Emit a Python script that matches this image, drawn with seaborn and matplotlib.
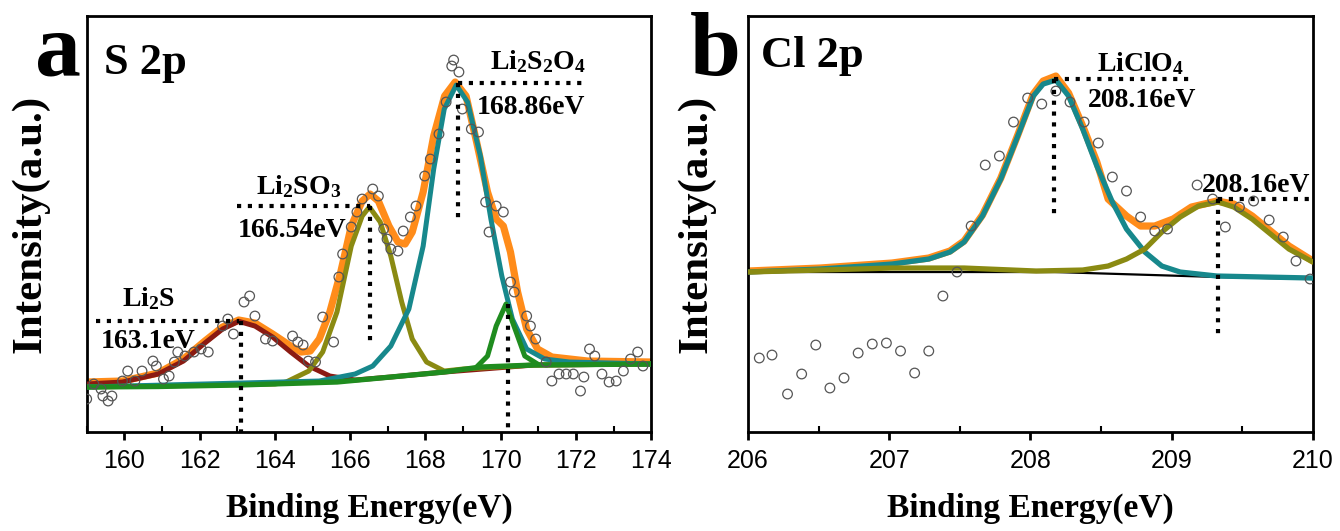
import numpy as np
import pandas as pd
import matplotlib
matplotlib.use("Agg")
import matplotlib.pyplot as plt
import seaborn as sns

# ---- panel a : S 2p (intensity in a.u.) ----
s_raw_x = [159.0, 159.19, 159.38, 159.43, 159.57, 159.67, 159.95, 160.09, 160.28, 160.47,
           160.76, 160.85, 161.04, 161.19, 161.33, 161.42, 161.61, 161.85, 162.04, 162.23,
           162.61, 162.75, 162.9, 163.18, 163.33, 163.47, 163.75, 163.94, 164.47, 164.61,
           164.75, 164.89, 165.08, 165.27, 165.56, 165.7, 165.8, 166.03, 166.18, 166.32,
           166.6, 166.75, 166.89, 166.98, 167.08, 167.27, 167.41, 167.6, 167.75, 167.98,
           168.13, 168.36, 168.55, 168.7, 168.75, 168.89, 168.98, 169.22, 169.41, 169.6,
           169.69, 169.88, 170.07, 170.26, 170.36, 170.69, 170.79, 170.93, 171.21, 171.36,
           171.55, 171.74, 171.93, 172.12, 172.21, 172.36, 172.5, 172.69, 172.88, 173.07,
           173.26, 173.45, 173.64, 173.78]
s_raw_y = [33, 48, 43, 36, 31, 36, 51, 61, 51, 61,
           71, 66, 53, 56, 70, 80, 76, 80, 83, 80,
           106, 113, 98, 130, 136, 116, 93, 91, 96, 90,
           87, 71, 70, 115, 90, 155, 178, 205, 220, 233,
           243, 236, 203, 193, 183, 181, 201, 215, 226, 256,
           273, 298, 330, 366, 372, 360, 323, 303, 300, 230,
           200, 226, 220, 150, 140, 116, 106, 93, 70, 51,
           58, 58, 58, 41, 55, 83, 76, 58, 50, 51,
           61, 73, 80, 66]

s_env_x = [159.0, 159.95, 160.9, 161.57, 162.14, 162.61, 163.04, 163.47, 163.94, 164.42,
           164.7, 164.94, 165.18, 165.46, 165.75, 166.03, 166.32, 166.53, 166.75, 167.03,
           167.27, 167.46, 167.65, 167.94, 168.22, 168.51, 168.79, 169.08, 169.36, 169.65,
           169.88, 170.07, 170.26, 170.45, 170.69, 170.98, 171.36, 172.31, 174.0]
s_env_y = [50, 51, 59, 73, 91, 105, 112, 109, 98, 86,
           80, 81, 93, 120, 160, 206, 231, 238, 231, 206,
           190, 188, 200, 240, 296, 336, 350, 336, 290, 240,
           213, 206, 180, 140, 103, 83, 75, 71, 70]

s_li2s_x = [159.0, 159.95, 160.9, 161.57, 162.14, 162.61, 163.04, 163.47, 163.94, 164.42,
            164.9, 165.46, 166.13, 167.08, 168.5, 170.88, 174.0]
s_li2s_y = [48, 50, 58, 71, 89, 103, 110.7, 106, 95, 80,
            66, 56, 52, 55, 60, 67, 68]

s_so3_x = [159.0, 164.0, 164.3, 164.9, 165.27, 165.65, 166.03, 166.32, 166.51, 166.8,
           167.08, 167.37, 167.65, 168.03, 168.5, 169.0, 170.88, 174.0]
s_so3_y = [45, 48, 50, 61, 80, 120, 186, 216, 225, 210,
           176, 130, 93, 70, 61, 63, 67, 68]

s_s2o4_x = [159.0, 165.18, 166.13, 166.6, 167.08, 167.56, 167.94, 168.22, 168.5, 168.82,
            169.12, 169.46, 169.74, 170.03, 170.31, 170.69, 171.17, 171.83, 174.0]
s_s2o4_y = [45, 51, 58, 66, 86, 123, 186, 263, 323, 347,
            330, 276, 213, 156, 113, 83, 73, 70, 68]

s_p170_x = [169.36, 169.65, 169.88, 170.14, 170.41, 170.64, 170.98]
s_p170_y = [65, 76, 106, 128, 100, 76, 68]

s_bg_x = [159.0, 160.9, 163.04, 165.65, 167.08, 168.5, 169.46, 170.88, 174.0]
s_bg_y = [45, 45.5, 47, 50, 55, 60, 65, 67, 68]

# ---- panel b : Cl 2p ----
cl_raw_x = [206.08, 206.17, 206.28, 206.38, 206.48, 206.58, 206.68, 206.78, 206.88, 206.98,
            207.08, 207.18, 207.28, 207.38, 207.48, 207.58, 207.68, 207.78, 207.88, 207.98,
            208.08, 208.18, 208.28, 208.38, 208.48, 208.58, 208.68, 208.78, 208.88, 208.97,
            209.18, 209.29, 209.38, 209.48, 209.58, 209.69, 209.79, 209.88, 209.98]
cl_raw_y = [74, 77, 38, 58, 87, 44, 54, 79, 88, 89,
            81, 59, 81, 136, 160, 206, 267, 276, 310, 334,
            328, 341, 330, 310, 289, 255, 241, 215, 201, 203,
            247, 233, 205, 225, 231, 212, 195, 171, 153]

cl_env_x = [206.0, 206.51, 207.02, 207.28, 207.43, 207.53, 207.66, 207.79, 207.91, 208.02,
            208.09, 208.18, 208.27, 208.37, 208.47, 208.55, 208.68, 208.78, 208.88, 209.01,
            209.14, 209.32, 209.44, 209.57, 209.7, 209.83, 210.0]
cl_env_y = [161, 164, 169, 174, 181, 191, 217, 254, 297, 338,
            351, 356, 339, 306, 270, 233, 216, 206, 206, 213,
            225, 231, 228, 216, 201, 186, 171]

cl_clo4_x = [206.0, 206.51, 207.02, 207.28, 207.43, 207.53, 207.66, 207.79, 207.91, 208.02,
             208.09, 208.18, 208.27, 208.37, 208.47, 208.58, 208.68, 208.81, 208.93, 209.06,
             209.32, 210.0]
cl_clo4_y = [160, 163, 168, 173, 180, 190, 216, 253, 296, 336,
             348, 352, 336, 303, 266, 230, 203, 180, 166, 160,
             156, 154]

cl_p2_x = [206.0, 207.02, 207.53, 208.04, 208.37, 208.55, 208.68, 208.81, 208.93, 209.06,
           209.19, 209.33, 209.44, 209.57, 209.7, 209.83, 210.0]
cl_p2_y = [160, 164, 164, 161, 162, 166, 173, 183, 200, 215,
           226, 230, 225, 213, 198, 183, 170]

cl_bg_x = [206.0, 208.17, 209.33, 210.0]
cl_bg_y = [160, 160, 155, 153]

COL = {"env": "#ff8c1a", "red": "#8b1a12", "olive": "#8a8a12", "teal": "#17888c",
       "green": "#1f8c1f", "pts": "#555555"}

sns.set_style("ticks")
plt.rcParams.update({
    "font.family": ["Liberation Sans Narrow", "Liberation Sans", "DejaVu Sans"],
    "mathtext.fontset": "custom",
    "mathtext.rm": "Liberation Serif:bold",
    "mathtext.it": "Liberation Serif:bold",
    "mathtext.bf": "Liberation Serif:bold",
    "text.color": "black", "axes.labelcolor": "black",
    "xtick.color": "black", "axes.edgecolor": "black",
    "axes.linewidth": 2.0,
    "xtick.major.width": 2.0, "xtick.minor.width": 1.5,
})
SERIF = ["Liberation Serif", "DejaVu Serif"]


def line(ax, x, y, color, lw, z):
    d = pd.DataFrame({"x": x, "y": y})
    sns.lineplot(data=d, x="x", y="y", ax=ax, color=color, lw=lw, sort=False,
                 estimator=None, zorder=z, legend=False)


def points(ax, x, y):
    d = pd.DataFrame({"x": x, "y": y})
    sns.scatterplot(data=d, x="x", y="y", ax=ax, s=48, facecolor="none",
                    edgecolor=COL["pts"], linewidth=0.9, zorder=10, legend=False)


def dots(ax, x, y):
    ax.plot(x, y, color="black", lw=3, ls=(0, (1, 1.6)), zorder=12)


def label(ax, x, y, s, size=20):
    ax.text(x, y, s, ha="center", va="baseline", fontsize=size,
            fontweight="bold", family=SERIF, zorder=13)


fig = plt.figure(figsize=(13.4, 5.31), dpi=100)
ax1 = fig.add_axes([0.0647, 0.1864, 0.4213, 0.7834])
ax2 = fig.add_axes([0.5582, 0.1864, 0.4216, 0.7834])

# panel a
line(ax1, s_env_x, s_env_y, COL["env"], 5.2, 2)
line(ax1, s_li2s_x, s_li2s_y, COL["red"], 3.6, 3)
line(ax1, s_so3_x, s_so3_y, COL["olive"], 3.6, 4)
line(ax1, s_s2o4_x, s_s2o4_y, COL["teal"], 3.6, 5)
line(ax1, s_p170_x, s_p170_y, COL["green"], 3.6, 6)
line(ax1, s_bg_x, s_bg_y, COL["green"], 3.8, 7)
points(ax1, s_raw_x, s_raw_y)

dots(ax1, [159.24, 163.04], [110.7, 110.7])
dots(ax1, [163.1, 163.1], [110.7, 0])
dots(ax1, [162.99, 166.54], [226, 226])
dots(ax1, [166.54, 166.54], [226, 88])
dots(ax1, [168.86, 172.17], [349, 349])
dots(ax1, [168.86, 168.86], [349, 211])
dots(ax1, [170.2, 170.2], [128, 0])

label(ax1, 160.63, 126, "Li$_2$S")
label(ax1, 160.63, 84, "163.1eV")
label(ax1, 164.63, 238, "Li$_2$SO$_3$")
label(ax1, 164.47, 195, "166.54eV")
label(ax1, 170.99, 363, "Li$_2$S$_2$O$_4$")
label(ax1, 170.8, 318, "168.86eV")
ax1.text(159.46, 358, "S 2p", ha="left", va="baseline", fontsize=32,
         fontweight="bold", family=SERIF)

ax1.set_xlim(159, 174)
ax1.set_xticks(np.arange(160, 175, 2))
ax1.set_xticks(np.arange(159, 175, 1), minor=True)

# panel b
line(ax2, cl_env_x, cl_env_y, COL["env"], 5.2, 2)
line(ax2, cl_bg_x, cl_bg_y, "black", 1.6, 3)
line(ax2, cl_clo4_x, cl_clo4_y, COL["teal"], 3.8, 4)
line(ax2, cl_p2_x, cl_p2_y, COL["olive"], 3.8, 5)
points(ax2, cl_raw_x, cl_raw_y)

dots(ax2, [208.17, 209.16], [353, 353])
dots(ax2, [208.17, 208.17], [353, 216])
dots(ax2, [209.33, 209.98], [233, 233])
dots(ax2, [209.33, 209.33], [233, 95])

label(ax2, 208.78, 361, "LiClO$_4$")
label(ax2, 208.79, 325, "208.16eV")
label(ax2, 209.6, 240, "208.16eV")
ax2.text(206.09, 365, "Cl 2p", ha="left", va="baseline", fontsize=32,
         fontweight="bold", family=SERIF)

ax2.set_xlim(206, 210)
ax2.set_xticks(np.arange(206, 210.5, 1))
ax2.set_xticks(np.arange(206, 210.1, 0.5), minor=True)

for ax, ylx in ((ax1, -0.066), (ax2, -0.058)):
    ax.set_ylim(0, 416)
    ax.set_yticks([])
    for sp in ax.spines.values():
        sp.set_visible(True)
        sp.set_color("black")
    ax.tick_params(axis="x", which="major", direction="out", length=6, labelsize=18, pad=6)
    ax.tick_params(axis="x", which="minor", direction="in", length=4)
    ax.set_xlabel("Binding Energy(eV)", fontsize=24, fontweight="bold", family=SERIF)
    ax.set_ylabel("Intensity(a.u.)", fontsize=31, fontweight="bold", family=SERIF)
    ax.xaxis.set_label_coords(0.5, -0.145)
    ax.yaxis.set_label_coords(ylx, 0.5)

fig.text(35 / 1340, 1 - 75 / 531, "a", fontsize=66, fontweight="bold", family=SERIF)
fig.text(690 / 1340, 1 - 75 / 531, "b", fontsize=66, fontweight="bold", family=SERIF)

fig.savefig("out.png", dpi=100)
